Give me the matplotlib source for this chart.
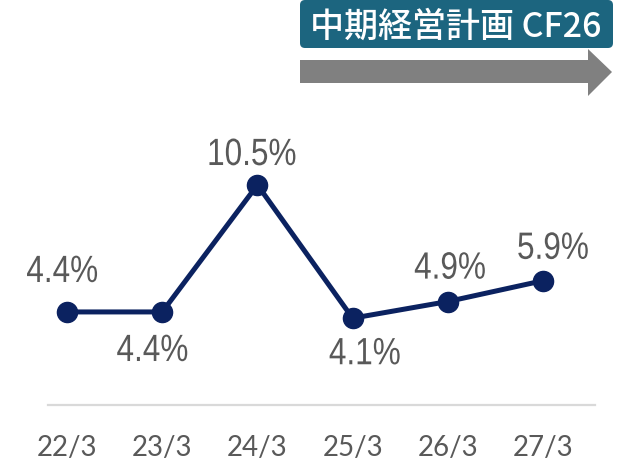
import matplotlib
matplotlib.use("Agg")
import matplotlib.pyplot as plt
from matplotlib.font_manager import FontProperties
from matplotlib.patches import FancyBboxPatch, PathPatch, Polygon
from matplotlib.textpath import TextPath
from matplotlib.transforms import Affine2D

# Fiscal year-ends and the ratio for each
periods = ["22/3", "23/3", "24/3", "25/3", "26/3", "27/3"]
ratios = [4.4, 4.4, 10.5, 4.1, 4.9, 5.9]

# label offsets from each marker, in pixels (x right, y up)
label_offsets = [(-5, 43), (-10, -36), (-5, 33), (12, -33), (2, 36), (10, 35)]

NAVY = "#0B2260"
GREY_TEXT = "#595959"
W, H = 621, 464

fig = plt.figure(figsize=(W / 100, H / 100), dpi=100)

# main axes: baseline at 406 px, spans 48..595 px horizontally
left, right, base = 48, 595, 406
ax = fig.add_axes([left / W, (H - base) / H, (right - left) / W, base / H])
ax.set_xlim(-0.2, 5.546)
ax.set_ylim(-0.07, -0.07 + base / 20.82)

xs = list(range(len(periods)))
ax.plot(xs, ratios, color=NAVY, lw=3.6, marker="o", ms=14.5,
        solid_capstyle="round", zorder=3)

for side in ["top", "left", "right"]:
    ax.spines[side].set_visible(False)
ax.spines["bottom"].set_color("#D9D9D9")
ax.spines["bottom"].set_linewidth(1.6)
ax.set_yticks([])
ax.set_xticks(xs)
ax.set_xticklabels(periods, fontsize=20, color=GREY_TEXT, family="Lato")
ax.tick_params(axis="x", length=0, pad=21)

# overlay in pixel space (y down) for banner, arrow and value labels
ov = fig.add_axes([0, 0, 1, 1])
ov.set_xlim(0, W)
ov.set_ylim(H, 0)
ov.axis("off")
ov.patch.set_alpha(0)

# value labels in a condensed sans: horizontally squeezed text paths
label_font = FontProperties(family="Liberation Sans")
for x, v, (dx, dy) in zip(xs, ratios, label_offsets):
    px, py = ax.transData.transform((x, v))
    py = H - py
    tp = TextPath((0, 0), f"{v:.1f}%", size=38, prop=label_font)
    bb = tp.get_extents()
    cx, cy = (bb.x0 + bb.x1) / 2, (bb.y0 + bb.y1) / 2
    tr = (Affine2D().translate(-cx, -cy).scale(0.83, -1)
          .translate(px + dx, py - dy))
    ov.add_patch(PathPatch(tr.transform_path(tp), fc=GREY_TEXT, ec="none"))

ov.add_patch(FancyBboxPatch((300, 1), 313, 48,
                            boxstyle="round,pad=0,rounding_size=5",
                            fc="#1C657F", ec="none"))
ov.text(456, 27, "中期経営計画 CF26", color="white", fontsize=24.5,
        ha="center", va="center", fontweight="medium",
        family=["Noto Sans CJK JP", "DejaVu Sans"])
ov.add_patch(Polygon([(300, 61), (588, 61), (588, 50), (612, 73),
                      (588, 97), (588, 84), (300, 84)],
                     closed=True, fc="#808080", ec="none"))

fig.savefig("out.png", dpi=100)
